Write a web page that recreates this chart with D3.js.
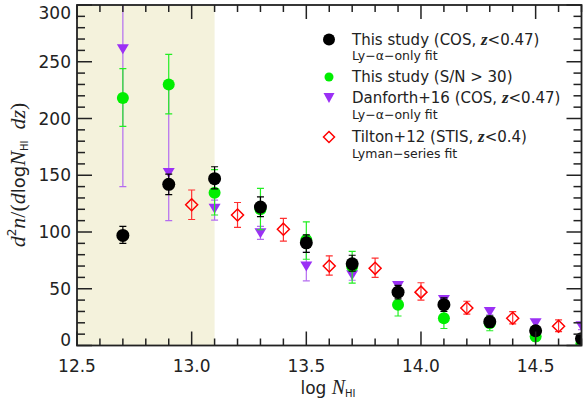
<!DOCTYPE html>
<html><head><meta charset="utf-8">
<script src="https://cdn.jsdelivr.net/npm/d3@7"></script>
<style>
html,body{margin:0;padding:0;background:#fff;}
svg{display:block;}
</style></head>
<body>
<svg id="chart" width="583" height="401"></svg>
<script>
// ---- data ----
const xCOS = [12.7, 12.9, 13.1, 13.3, 13.5, 13.7, 13.9, 14.1, 14.3, 14.5, 14.7];
const blackVal = [97, 142, 147, 122, 90.5, 72, 47, 36, 21, 13, 6];
const blackLo  = [90, 133, 138, 113.5, 82, 65.5, 41, 30, 16, 9, 3];
const blackHi  = [105, 151, 157.5, 131, 97.5, 79.5, 53, 42, 26, 17, 10];

const greenVal = [218, 230, 134.5, 120, 93, 69.5, 36, 24, 19.5, 8, 2];
const greenLo  = [193, 204, 115, 102, 76, 55, 26, 15, 13, 4, 0];
const greenHi  = [244, 256.5, 155, 138.5, 109, 83, 46, 32, 26, 12, 5];

const purpleVal = [261, 152, 120.5, 99, 69.5, 62, 52.5, 40, 29.5, 19.5, 17];
const purpleLo  = [140, 110, 110.5, 93.5, 57, 57.5, 49, 37, 27, 17, 14];
const purpleHi  = [320, 228, 128, 105, 82, 67, 56, 43, 32, 22, 20];

const xTilton = [13.0, 13.2, 13.4, 13.6, 13.8, 14.0, 14.2, 14.4, 14.6];
const redVal = [124, 115, 102.5, 70, 68, 47, 33, 24, 17];
const redLo  = [111, 104, 92, 62, 60, 40, 27.7, 19, 12.2];
const redHi  = [137, 126, 112, 79, 77, 55.3, 39, 29.8, 22.5];

const xTickLabels = ["12.5", "13.0", "13.5", "14.0", "14.5"];
const yTickLabels = ["0", "50", "100", "150", "200", "250", "300"];
const shadeRange = [12.5, 13.1];

// ---- layout ----
const svg = d3.select("#chart");
const L = 77, R = 581.5, T = 5, B = 345.5;
const x = d3.scaleLinear().domain([12.5, 14.7]).range([L, R]);
const y = d3.scaleLinear().domain([0, 300]).range([B, T]);

svg.append("defs").append("clipPath").attr("id", "clip")
  .append("rect").attr("x", L).attr("y", T).attr("width", R - L).attr("height", B - T);

// shaded region
svg.append("rect")
  .attr("x", x(shadeRange[0])).attr("y", T)
  .attr("width", x(shadeRange[1]) - x(shadeRange[0])).attr("height", B - T)
  .attr("fill", "#f4f2dc");

const plot = svg.append("g").attr("clip-path", "url(#clip)");

function series(xs, vals, lo, hi, barColor, drawMarker) {
  const g = plot.append("g");
  const cap = 3.5;
  xs.forEach((xv, i) => {
    const px = x(xv);
    g.append("line").attr("x1", px).attr("x2", px)
      .attr("y1", y(lo[i])).attr("y2", y(hi[i]))
      .attr("stroke", barColor).attr("stroke-width", 1.2);
    [lo[i], hi[i]].forEach(v => {
      g.append("line").attr("x1", px - cap).attr("x2", px + cap)
        .attr("y1", y(v)).attr("y2", y(v))
        .attr("stroke", barColor).attr("stroke-width", 1.2);
    });
  });
  xs.forEach((xv, i) => drawMarker(g, x(xv), y(vals[i])));
}

const diamond = (g, cx, cy, s) => g.append("path")
  .attr("d", `M${cx},${cy - s}L${cx + s},${cy}L${cx},${cy + s}L${cx - s},${cy}Z`)
  .attr("fill", "none").attr("stroke", "#ff0000").attr("stroke-width", 1.5);
const triangle = (g, cx, cy, w, h, col) => g.append("path")
  .attr("d", `M${cx - w / 2},${cy - h / 2}L${cx + w / 2},${cy - h / 2}L${cx},${cy + h / 2}Z`)
  .attr("fill", col);
const circle = (g, cx, cy, r, col) => g.append("circle")
  .attr("cx", cx).attr("cy", cy).attr("r", r).attr("fill", col);

series(xTilton, redVal, redLo, redHi, "#ff3030", (g, cx, cy) => diamond(g, cx, cy, 6));
series(xCOS, purpleVal, purpleLo, purpleHi, "#b46cf0", (g, cx, cy) => triangle(g, cx, cy, 12, 10, "#9b30f5"));
series(xCOS, greenVal, greenLo, greenHi, "#22ee22", (g, cx, cy) => circle(g, cx, cy, 6, "#00ee00"));
series(xCOS, blackVal, blackLo, blackHi, "#000000", (g, cx, cy) => circle(g, cx, cy, 6.5, "#000000"));

// ---- axes / frame ----
const axCol = "#222";
const ax = svg.append("g").attr("stroke", axCol);
ax.append("rect").attr("x", L).attr("y", T).attr("width", R - L).attr("height", B - T)
  .attr("fill", "none").attr("stroke-width", 1.8);

const xMinor = d3.range(12.5, 14.75, 0.1).map(v => +v.toFixed(2));
xMinor.forEach(v => {
  const major = Math.abs(v * 2 - Math.round(v * 2)) < 1e-6;
  const len = major ? 14 : 7;
  const px = x(v);
  ax.append("line").attr("x1", px).attr("x2", px).attr("y1", B).attr("y2", B - len).attr("stroke-width", 1.5);
  ax.append("line").attr("x1", px).attr("x2", px).attr("y1", T).attr("y2", T + len).attr("stroke-width", 1.5);
});
d3.range(0, 301, 10).forEach(v => {
  const major = v % 50 === 0;
  const len = major ? 15 : 8;
  const py = y(v);
  ax.append("line").attr("x1", L).attr("x2", L + len).attr("y1", py).attr("y2", py).attr("stroke-width", 1.5);
  ax.append("line").attr("x1", R).attr("x2", R - len).attr("y1", py).attr("y2", py).attr("stroke-width", 1.5);
});

const font = "'DejaVu Sans', sans-serif";
const txt = svg.append("g").attr("fill", "#222").attr("font-family", font);
xTickLabels.forEach(s => {
  txt.append("text").attr("x", x(+s)).attr("y", 372).attr("text-anchor", "middle")
    .attr("font-size", 17).text(s);
});
yTickLabels.forEach(s => {
  txt.append("text").attr("x", 71).attr("y", Math.max(13, Math.min(y(+s), 340))).attr("dy", "0.36em")
    .attr("text-anchor", "end").attr("font-size", 17).text(s);
});

// x label
const xl = txt.append("text").attr("x", 328).attr("y", 394).attr("text-anchor", "middle").attr("font-size", 17);
xl.append("tspan").text("log  ");
xl.append("tspan").attr("font-family", "'Liberation Serif', serif").attr("font-style", "italic").attr("font-size", 20).text("N");
xl.append("tspan").attr("font-size", 10).attr("dy", 3).text("HI");

// y label
const serif = "'Liberation Serif', serif";
const yl = txt.append("text").attr("transform", "translate(25,175) rotate(-90)")
  .attr("text-anchor", "middle").attr("font-size", 22);
yl.append("tspan").attr("font-family", serif).attr("font-style", "italic").text("d");
yl.append("tspan").attr("font-size", 12).attr("dy", -9).text("2");
yl.append("tspan").attr("font-family", serif).attr("font-style", "italic").attr("dy", 9).text("n");
yl.append("tspan").attr("font-family", serif).text("/(");
yl.append("tspan").attr("font-family", serif).attr("font-style", "italic").text("d");
yl.append("tspan").attr("font-size", 18).text("log");
yl.append("tspan").attr("font-family", serif).attr("font-style", "italic").text("N");
yl.append("tspan").attr("font-size", 10).attr("dy", 3).text("HI");
yl.append("tspan").attr("font-family", serif).attr("font-style", "italic").attr("dy", -3).text("\u2002dz");
yl.append("tspan").attr("font-family", serif).text(")");

// ---- legend ----
const legendMain = ["This study (COS, ", "This study (S/N > 30)", "Danforth+16 (COS, ", "Tilton+12 (STIS, "];
const legendTail = ["<0.47)", "", "<0.47)", "<0.4)"];
const legendSub = ["Ly\u2212\u03b1\u2212only fit", "", "Ly\u2212\u03b1\u2212only fit", "Lyman\u2212series fit"];
const legY = [39.5, 77, 98, 137];
const lg = svg.append("g");
const symX = 329, textX = 352;
legendMain.forEach((s, i) => {
  const t = lg.append("text").attr("x", textX).attr("y", legY[i]).attr("dy", "0.36em")
    .attr("font-family", font).attr("font-size", 15).attr("fill", "#222");
  t.append("tspan").text(s);
  if (legendTail[i]) {
    t.append("tspan").attr("font-family", serif).attr("font-style", "italic").attr("font-weight", "bold").attr("font-size", 17).text("z");
    t.append("tspan").text(legendTail[i]);
  }
  if (legendSub[i]) {
    lg.append("text").attr("x", textX).attr("y", legY[i] + 16).attr("dy", "0.36em")
      .attr("font-family", font).attr("font-size", 12.5).attr("fill", "#222").text(legendSub[i]);
  }
});
circle(lg, symX, legY[0], 6, "#000");
circle(lg, symX, legY[1], 4.5, "#00ee00");
triangle(lg, symX, legY[2], 11, 10, "#9b30f5");
diamond(lg, symX, legY[3], 5.5);
</script>
</body></html>
